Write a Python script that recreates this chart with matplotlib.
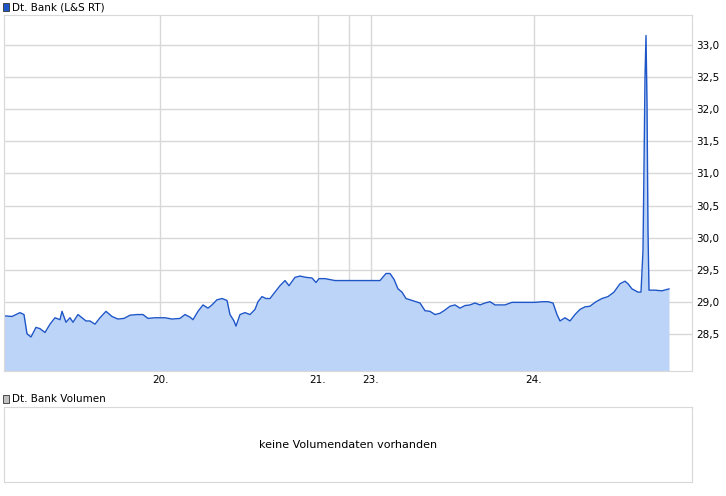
import matplotlib.pyplot as plt
from matplotlib.patches import Rectangle

# price series sampled along the time axis (x in chart units)
xs = [4, 12, 20, 24, 27, 31, 36, 40, 45, 50, 55, 60, 62, 66, 70, 73, 78, 82, 86, 90, 95,
      100, 106, 112, 118, 124, 130, 137, 143, 148, 155, 165, 172, 180, 185, 190, 193, 198,
      203, 208, 212, 217, 222, 227, 230, 234, 236, 240, 245, 250, 255, 258, 262, 266, 270,
      275, 280, 285, 289, 295, 300, 306, 312, 316, 319, 325, 335, 360, 380, 386, 390, 394,
      398, 402, 406, 412, 420, 425, 430, 435, 440, 445, 450, 455, 460, 465, 470, 475, 480,
      485, 490, 495, 505, 512, 525, 535, 542, 548, 553, 557, 560, 565, 570, 575, 580, 585,
      590, 596, 602, 608, 614, 620, 625, 628, 632, 638, 641, 643, 644, 645, 646, 647, 648,
      649, 655, 662, 669]
prices = [28.78, 28.77, 28.83, 28.80, 28.50, 28.45, 28.60, 28.58, 28.52, 28.65, 28.75, 28.72,
          28.85, 28.68, 28.75, 28.68, 28.80, 28.75, 28.70, 28.70, 28.65, 28.75, 28.85, 28.77,
          28.73, 28.74, 28.79, 28.80, 28.80, 28.74, 28.75, 28.75, 28.73, 28.74, 28.80, 28.76,
          28.72, 28.85, 28.95, 28.90, 28.95, 29.03, 29.05, 29.02, 28.80, 28.70, 28.62, 28.80,
          28.83, 28.80, 28.88, 29.00, 29.08, 29.05, 29.05, 29.15, 29.25, 29.33, 29.25, 29.38,
          29.40, 29.38, 29.37, 29.30, 29.36, 29.36, 29.33, 29.33, 29.33, 29.44, 29.44, 29.35,
          29.20, 29.15, 29.05, 29.02, 28.98, 28.86, 28.85, 28.80, 28.82, 28.87, 28.93, 28.95,
          28.90, 28.94, 28.95, 28.98, 28.95, 28.98, 29.00, 28.95, 28.95, 28.99, 28.99, 28.99,
          29.00, 29.00, 28.98, 28.80, 28.70, 28.75, 28.70, 28.80, 28.88, 28.92, 28.93, 29.00,
          29.05, 29.08, 29.15, 29.28, 29.32, 29.28, 29.20, 29.15, 29.15, 29.80, 31.10, 32.50,
          33.15, 32.10, 30.10, 29.18, 29.18, 29.17, 29.20]

day_ticks = [160, 318, 371, 534]
day_labels = ["20.", "21.", "23.", "24."]
extra_lines = [349]
y_ticks = [28.5, 29.0, 29.5, 30.0, 30.5, 31.0, 31.5, 32.0, 32.5, 33.0]

fig = plt.figure(figsize=(7.26, 4.96), dpi=100)
W, H = 726, 496
grid_c = "#d8d8d8"

ax = fig.add_axes([4 / W, 1 - 371 / H, 688 / W, 356 / H])
ax.set_xlim(4, 692)
ax.set_ylim(27.92, 33.47)
ax.fill_between(xs, prices, 27.92, color="#bcd4f8", lw=0)
ax.plot(xs, prices, color="#1e56c8", lw=1)
ax.set_yticks(y_ticks)
ax.set_yticklabels([f"{v:.1f}".replace(".", ",") for v in y_ticks])
ax.set_xticks(day_ticks)
ax.set_xticklabels(day_labels)
ax.yaxis.tick_right()
ax.tick_params(length=0, labelsize=7.5, pad=3)
ax.grid(True, color=grid_c, lw=1)
ax.set_axisbelow(True)
for x in extra_lines:
    ax.axvline(x, color=grid_c, lw=1, zorder=0)
for s in ax.spines.values():
    s.set_color(grid_c)

ax2 = fig.add_axes([4 / W, 1 - 482 / H, 688 / W, 75 / H])
ax2.set_xticks([])
ax2.set_yticks([])
for s in ax2.spines.values():
    s.set_color(grid_c)
ax2.text(0.5, 0.5, "keine Volumendaten vorhanden", ha="center", va="center",
         fontsize=8, transform=ax2.transAxes)

fig.patches.append(Rectangle((3 / W, 1 - 11 / H), 6 / W, 8 / H, transform=fig.transFigure,
                             facecolor="#1e56c8", edgecolor="#333333", lw=0.6))
fig.text(12 / W, 1 - 7 / H, "Dt. Bank (L&S RT)", fontsize=7.5, va="center")
fig.patches.append(Rectangle((3 / W, 1 - 403 / H), 6 / W, 8 / H, transform=fig.transFigure,
                             facecolor="#c0c0c0", edgecolor="#333333", lw=0.6))
fig.text(12 / W, 1 - 399 / H, "Dt. Bank Volumen", fontsize=7.5, va="center")

fig.savefig("out.png", dpi=100)
